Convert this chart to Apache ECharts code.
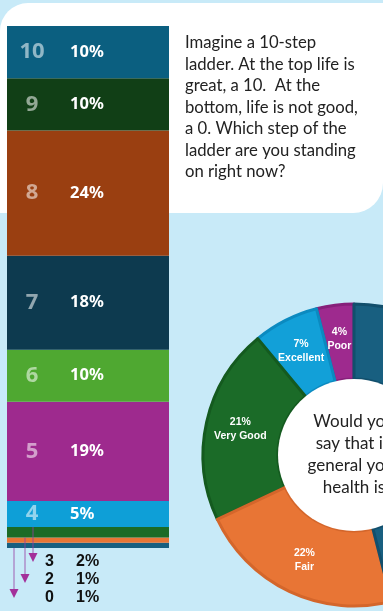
<!DOCTYPE html>
<html>
<head>
<meta charset="utf-8">
<style>
  html, body { margin: 0; padding: 0; background: #c8eaf8; }
  #chart { width: 383px; height: 611px; }
</style>
<script src="https://cdn.jsdelivr.net/npm/echarts@6/dist/echarts.min.js"></script>
</head>
<body>
<div id="chart"></div>
<script>
// Life ladder: share of respondents on each step (bottom to top)
const ladderSteps = ['0', '2', '3', '4', '5', '6', '7', '8', '9', '10'];
const ladderShares = [1, 1, 2, 5, 19, 10, 18, 24, 10, 10];
const ladderColors = ['#185f80', '#e87535', '#1b6b26', '#0e9fd7', '#9e2a8e',
                      '#4fa831', '#0d3a4f', '#9a3f11', '#113f16', '#0b5f80'];
// Steps too thin for an inside label get a callout below the bar
const calloutSteps = ['3', '2', '0'];

// Self-rated health (counter-clockwise from 12 o'clock)
const healthCategories = ['Poor', 'Excellent', 'Very Good', 'Fair', 'Good'];
const healthShares = [4, 7, 21, 22, 46];
const healthColors = ['#9e2a8e', '#12a0d8', '#1b6b28', '#e87535', '#185f80'];
const healthBorders = ['#86207a', '#0b8ac0', '#145a1f', '#d4662b', '#124f6c'];

const ladderQuestion = 'Imagine a 10-step\nladder. At the top life is\ngreat, a 10.  At the\nbottom, life is not good,\na 0. Which step of the\nladder are you standing\non right now?';
const healthQuestion = 'Would you\nsay that in\ngeneral your\nhealth is';

const chart = echarts.init(document.getElementById('chart'));

const barSeries = ladderSteps.map((step, i) => ({
  type: 'bar',
  name: step,
  stack: 'ladder',
  barWidth: '100%',
  silent: true,
  itemStyle: { color: ladderColors[i] },
  label: {
    show: ladderShares[i] >= 5,
    position: 'insideLeft',
    distance: 0,
    formatter: () => '{n|' + step + '}{p|' + ladderShares[i] + '%}',
    rich: {
      n: { width: 50, align: 'center', fontFamily: 'Noto Sans', fontWeight: 'bold',
           fontSize: 22, color: 'rgba(255,255,255,0.55)' },
      p: { padding: [0, 0, 0, 13], fontFamily: 'Noto Sans', fontWeight: 'bold',
           fontSize: 16.5, color: '#ffffff' }
    }
  },
  data: [ladderShares[i]]
}));

const panel = {
  id: 'panel', type: 'rect', z: -10, silent: true,
  shape: { x: 0, y: 3, width: 383, height: 210, r: [28, 0, 30, 0] },
  style: { fill: '#ffffff' }
};
const questionText = {
  id: 'ladderQuestion', type: 'text', z: 5, silent: true,
  left: 185, top: 32,
  style: { text: ladderQuestion, fontFamily: 'Lato', fontSize: 16.7,
           lineHeight: 21.5, fill: '#222222' }
};

chart.setOption({
  backgroundColor: '#c8eaf8',
  animation: false,
  grid: { left: 7, top: 26, width: 162, height: 522 },
  xAxis: { type: 'category', data: ['ladder'], show: false },
  yAxis: { type: 'value', min: 0, max: 100, show: false },
  graphic: [panel, questionText],
  series: barSeries.concat([
    {
      type: 'pie',
      silent: true,
      center: [354, 455],
      radius: [76, 151],
      startAngle: 90,
      clockwise: false,
      avoidLabelOverlap: false,
      label: {
        show: true, position: 'inside',
        formatter: '{c}%\n{b}',
        fontFamily: 'Liberation Sans', fontWeight: 'bold', fontSize: 10.5,
        lineHeight: 14, color: '#ffffff'
      },
      labelLine: { show: false },
      data: healthCategories.map((c, i) => ({
        name: c, value: healthShares[i],
        itemStyle: { color: healthColors[i], borderColor: healthBorders[i], borderWidth: 3 }
      }))
    },
    {
      type: 'pie',
      silent: true,
      center: [354, 455],
      radius: [0, 76],
      label: {
        show: true, position: 'center',
        formatter: healthQuestion,
        fontFamily: 'Lato', fontSize: 17, lineHeight: 22, color: '#222222'
      },
      labelLine: { show: false },
      itemStyle: { color: '#ffffff' },
      data: [{ value: 1, name: 'question' }]
    }
  ])
});

// Callout arrows and labels for the thin bottom steps
const arrowX = [33, 25, 14];
const labelY = [562, 580, 598];
const callouts = [];
calloutSteps.forEach((step, k) => {
  const idx = ladderSteps.indexOf(step);
  // top edge of the segment (cumulative share up to and including this step)
  let cum = 0;
  for (let j = 0; j <= idx; j++) cum += ladderShares[j];
  const startVal = step === '0' ? 0 : cum;
  const start = chart.convertToPixel({ gridIndex: 0 }, ['ladder', startVal]);
  const x = arrowX[k];
  const tip = labelY[k] + (k === 1 ? 3 : 0);
  callouts.push({
    type: 'line', z: 10, silent: true,
    shape: { x1: x, y1: start[1], x2: x, y2: tip - 8 },
    style: { stroke: 'rgba(150,60,160,0.4)', lineWidth: 2 }
  });
  callouts.push({
    type: 'polygon', z: 10, silent: true,
    shape: { points: [[x - 4.5, tip - 9], [x + 4.5, tip - 9], [x, tip]] },
    style: { fill: '#a3309a' }
  });
  callouts.push({
    type: 'text', z: 10, silent: true, x: 45, y: labelY[k],
    style: { text: step, fontFamily: 'Liberation Sans', fontWeight: 'bold',
             fontSize: 16, fill: '#111111', verticalAlign: 'middle' }
  });
  callouts.push({
    type: 'text', z: 10, silent: true, x: 76, y: labelY[k],
    style: { text: ladderShares[idx] + '%', fontFamily: 'Liberation Sans', fontWeight: 'bold',
             fontSize: 16, fill: '#111111', verticalAlign: 'middle' }
  });
});

chart.setOption({ graphic: [panel, questionText].concat(callouts) });
</script>
</body>
</html>
